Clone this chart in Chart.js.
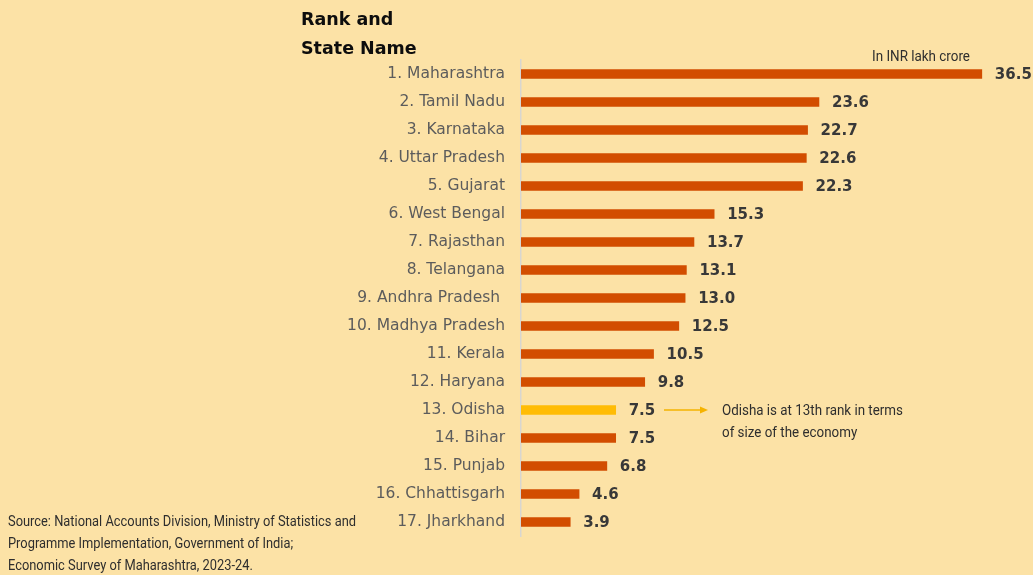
<!DOCTYPE html>
<html>
<head>
<meta charset="utf-8">
<script src="https://cdn.jsdelivr.net/npm/chart.js@4.4.1/dist/chart.umd.min.js"></script>
<style>
  html, body { margin: 0; padding: 0; background: #fce2a6; }
  #wrap { position: relative; width: 1033px; height: 575px; background: #fce2a6; overflow: hidden; }
  #wrap canvas { position: absolute; left: 0; top: 0; }
  .title { position: absolute; left: 301px; top: 5px; font: bold 17.5px "DejaVu Sans", sans-serif; line-height: 29px; color: #0d0d0d; }
  .note { position: absolute; font-family: Roboto, "Liberation Sans", sans-serif; color: #2e2e2e; transform-origin: 0 0; white-space: nowrap; }
  .unit { left: 872px; top: 48px; font-size: 14px; }
  .odisha { left: 722px; top: 400px; font-size: 14.5px; line-height: 22px; }
  .source { left: 8px; top: 510px; font-size: 15px; line-height: 22px; }
</style>
</head>
<body>
<div id="wrap">
  <canvas id="gsdp" width="1033" height="575"></canvas>
  <div class="title">Rank and<br>State Name</div>
  <div class="note unit" data-w="98">In INR lakh crore</div>
  <div class="note odisha" data-w="181">Odisha is at 13th rank in terms<br>of size of the economy</div>
  <div class="note source" data-w="348">Source: National Accounts Division, Ministry of Statistics and<br>Programme Implementation, Government of India;<br>Economic Survey of Maharashtra, 2023-24.</div>
</div>
<script>
// GSDP by state, INR lakh crore
var states = [
  "1. Maharashtra", "2. Tamil Nadu", "3. Karnataka", "4. Uttar Pradesh", "5. Gujarat",
  "6. West Bengal", "7. Rajasthan", "8. Telangana", "9. Andhra Pradesh ", "10. Madhya Pradesh",
  "11. Kerala", "12. Haryana", "13. Odisha", "14. Bihar", "15. Punjab",
  "16. Chhattisgarh", "17. Jharkhand"
];
var gsdp = [36.5, 23.6, 22.7, 22.6, 22.3, 15.3, 13.7, 13.1, 13.0, 12.5, 10.5, 9.8, 7.5, 7.5, 6.8, 4.6, 3.9];
var highlight = "13. Odisha";

var BAR = "#d24d00";
var HIGHLIGHT = "#ffbc05";

// squeeze the note text into a narrow look (no condensed face installed)
document.querySelectorAll(".note").forEach(function (el) {
  var w = el.getBoundingClientRect().width;
  var target = parseFloat(el.getAttribute("data-w"));
  if (w > 0) el.style.transform = "scaleX(" + (target / w) + ")";
});

// bold value after each bar, plus the arrow pointing at the Odisha note
var valueLabels = {
  id: "valueLabels",
  afterDatasetsDraw: function (chart) {
    var ctx = chart.ctx;
    var meta = chart.getDatasetMeta(0);
    ctx.save();
    ctx.font = "bold 15px 'DejaVu Sans', sans-serif";
    ctx.fillStyle = "#383838";
    ctx.textBaseline = "middle";
    meta.data.forEach(function (bar, i) {
      ctx.fillText(gsdp[i].toFixed(1), bar.x + 13, bar.y + 1);
      if (states[i] === highlight) {
        var y = bar.y;
        ctx.strokeStyle = "#f5b300";
        ctx.fillStyle = "#f5b300";
        ctx.lineWidth = 1.5;
        ctx.beginPath();
        ctx.moveTo(664, y);
        ctx.lineTo(702, y);
        ctx.stroke();
        ctx.beginPath();
        ctx.moveTo(708, y);
        ctx.lineTo(700, y - 3.5);
        ctx.lineTo(700, y + 3.5);
        ctx.closePath();
        ctx.fill();
        ctx.fillStyle = "#383838";
      }
    });
    ctx.restore();
  }
};

new Chart(document.getElementById("gsdp"), {
  type: "bar",
  data: {
    labels: states,
    datasets: [{
      data: gsdp,
      backgroundColor: states.map(function (s) { return s === highlight ? HIGHLIGHT : BAR; }),
      barThickness: 9,
      borderWidth: 0
    }]
  },
  options: {
    indexAxis: "y",
    responsive: false,
    animation: false,
    layout: { padding: { top: 60, bottom: 39, left: 0, right: 7 } },
    plugins: { legend: { display: false }, tooltip: { enabled: false } },
    scales: {
      x: { display: false, min: 0, max: 40 },
      y: {
        afterFit: function (scale) { scale.width = 521; },
        grid: { display: false, drawTicks: false },
        border: { display: true, color: "#d8d6d0", width: 1.5 },
        ticks: {
          padding: 16,
          color: "#5c5c5c",
          font: { family: "DejaVu Sans", size: 15.5 }
        }
      }
    }
  },
  plugins: [valueLabels]
});
</script>
</body>
</html>
